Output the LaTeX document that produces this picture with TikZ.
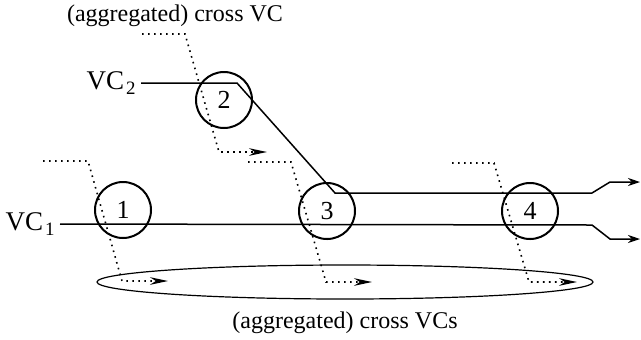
\documentclass[tikz,border=0pt]{standalone}
\usepackage{fontspec}
\setmainfont{Liberation Serif}
\usetikzlibrary{positioning,arrows.meta,shapes.geometric}

\begin{document}
\begin{tikzpicture}[
  x=0.5pt, y=-0.5pt,
  switch node/.style={
    draw,
    circle,
    line width=1pt,
    minimum size=28pt,
    inner sep=0pt,
    font=\fontsize{13}{15}\selectfont,
  },
  text node/.style={
    inner sep=1pt,
    font=\fontsize{12}{14}\selectfont,
  },
  vc node/.style={
    inner sep=1pt,
    font=\fontsize{13.5}{15}\selectfont,
  },
  vc line/.style={
    line width=0.75pt,
    -{Stealth[length=6pt,width=4pt]},
  },
  cross line/.style={
    line width=0.8pt,
    dash pattern=on 0.8pt off 2.2pt,
    -{Stealth[length=9pt,width=3.8pt]},
  },
  ]
  \useasboundingbox (0,0) rectangle (641,339);

  \node[switch node] (sw1) at (123,210) {1};
  \node[switch node] (sw2) at (224,100) {2};
  \node[switch node] (sw3) at (327,211) {3};
  \node[switch node] (sw4) at (530,211) {4};

  \node[draw,ellipse,line width=0.6pt,minimum width=248pt,minimum height=17pt,inner sep=0pt]
  (aggr) at (345,282) {};

  \node[text node] (top-label) at (175,16) {(aggregated) cross VC};
  \node[text node] (bottom-label) at (345,323) {(aggregated) cross VCs};

  \coordinate (vc2-start) at (141,83);
  \coordinate (vc2-a) at (237,83);
  \coordinate (vc2-b) at (335,193);
  \coordinate (vc2-c) at (592,193);
  \coordinate (vc2-d) at (610,182);
  \coordinate (vc2-end) at (640,182);
  \coordinate (vc1-start) at (60,224);
  \coordinate (vc1-c) at (592,225);
  \coordinate (vc1-d) at (610,239);
  \coordinate (vc1-end) at (640,239);

  \node[vc node,left=1pt of vc2-start] (vc2) {VC\kern1pt\textsubscript{2}};
  \node[vc node,left=1pt of vc1-start] (vc1) {VC\kern1pt\textsubscript{1}};

  \draw[vc line] (vc2-start) -- (vc2-a) -- (vc2-b) -- (vc2-c) -- (vc2-d) -- (vc2-end);
  \draw[vc line] (vc1-start) -- (vc1-c) -- (vc1-d) -- (vc1-end);

  \coordinate (x1-start) at (43,161);
  \coordinate (x1-a) at (88,161);
  \coordinate (x1-b) at (122,281);
  \coordinate (x1-end) at (168,281);
  \coordinate (x2-start) at (142,34);
  \coordinate (x2-a) at (185,34);
  \coordinate (x2-b) at (219,152);
  \coordinate (x2-end) at (267,152);
  \coordinate (x3-start) at (248,162);
  \coordinate (x3-a) at (291,162);
  \coordinate (x3-b) at (326,282);
  \coordinate (x3-end) at (372,282);
  \coordinate (x4-start) at (452,163);
  \coordinate (x4-a) at (494,163);
  \coordinate (x4-b) at (529,282);
  \coordinate (x4-end) at (577,282);

  \draw[cross line] (x1-start) -- (x1-a) -- (x1-b) -- (x1-end);
  \draw[cross line] (x2-start) -- (x2-a) -- (x2-b) -- (x2-end);
  \draw[cross line] (x3-start) -- (x3-a) -- (x3-b) -- (x3-end);
  \draw[cross line] (x4-start) -- (x4-a) -- (x4-b) -- (x4-end);
\end{tikzpicture}
\end{document}
